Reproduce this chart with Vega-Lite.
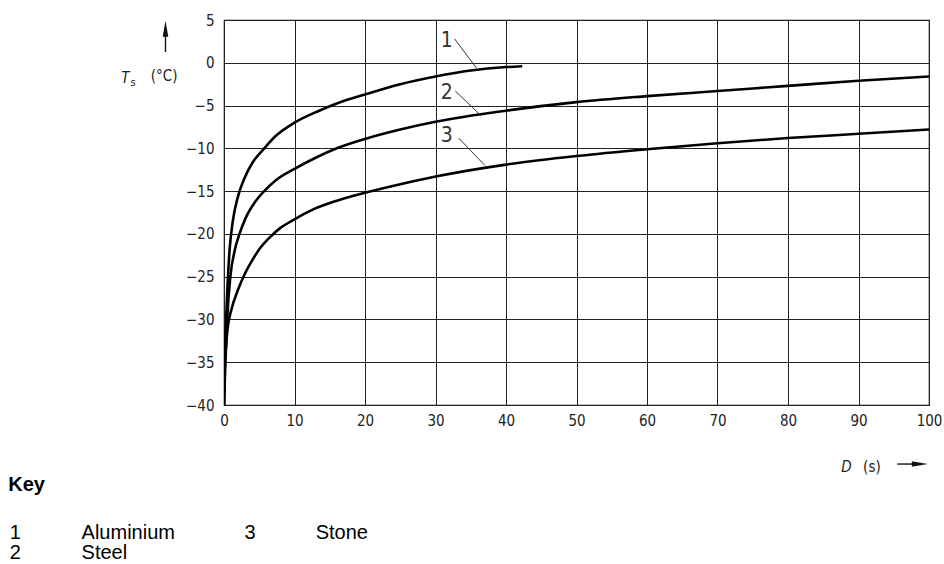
{
  "$schema": "https://vega.github.io/schema/vega-lite/v6.json",
  "width": 705,
  "height": 385,
  "autosize": {"type": "none"},
  "padding": {"left": 224, "top": 20, "right": 15, "bottom": 159},
  "background": "white",
  "config": {
    "view": {"stroke": "#111", "strokeWidth": 1.2},
    "axis": {
      "labelFont": "DejaVu Sans Condensed, Liberation Sans Narrow, sans-serif",
      "labelFontSize": 15,
      "labelColor": "#222",
      "gridColor": "#222",
      "gridWidth": 1,
      "gridOpacity": 1,
      "domain": false,
      "ticks": false,
      "title": null
    }
  },
  "datasets": {
    "curves": [
      {"material": "1", "D": 0, "T": -40}, {"material": "1", "D": 0.1, "T": -35}, {"material": "1", "D": 0.3, "T": -30}, {"material": "1", "D": 0.5, "T": -26}, {"material": "1", "D": 0.78, "T": -22}, {"material": "1", "D": 1.25, "T": -18.5}, {"material": "1", "D": 1.96, "T": -15.7}, {"material": "1", "D": 2.9, "T": -13.5}, {"material": "1", "D": 4.1, "T": -11.6}, {"material": "1", "D": 5.5, "T": -10.2}, {"material": "1", "D": 7.4, "T": -8.5}, {"material": "1", "D": 10, "T": -7.0}, {"material": "1", "D": 13.5, "T": -5.6}, {"material": "1", "D": 16, "T": -4.75}, {"material": "1", "D": 20, "T": -3.7}, {"material": "1", "D": 25, "T": -2.5}, {"material": "1", "D": 30, "T": -1.6}, {"material": "1", "D": 35, "T": -0.9}, {"material": "1", "D": 40, "T": -0.5}, {"material": "1", "D": 42.3, "T": -0.4},
      {"material": "2", "D": 0, "T": -40}, {"material": "2", "D": 0.2, "T": -35}, {"material": "2", "D": 0.45, "T": -30}, {"material": "2", "D": 0.9, "T": -25}, {"material": "2", "D": 1.5, "T": -22}, {"material": "2", "D": 2.2, "T": -20}, {"material": "2", "D": 3.1, "T": -18.1}, {"material": "2", "D": 4.3, "T": -16.4}, {"material": "2", "D": 5.7, "T": -15}, {"material": "2", "D": 7.4, "T": -13.7}, {"material": "2", "D": 10, "T": -12.4}, {"material": "2", "D": 13, "T": -11.1}, {"material": "2", "D": 16, "T": -10}, {"material": "2", "D": 20, "T": -8.9}, {"material": "2", "D": 25, "T": -7.8}, {"material": "2", "D": 30, "T": -6.9}, {"material": "2", "D": 40, "T": -5.6}, {"material": "2", "D": 50, "T": -4.6}, {"material": "2", "D": 60, "T": -3.9}, {"material": "2", "D": 70, "T": -3.3}, {"material": "2", "D": 80, "T": -2.7}, {"material": "2", "D": 90, "T": -2.1}, {"material": "2", "D": 100, "T": -1.6},
      {"material": "3", "D": 0, "T": -40}, {"material": "3", "D": 0.1, "T": -36}, {"material": "3", "D": 0.3, "T": -33}, {"material": "3", "D": 0.6, "T": -30.5}, {"material": "3", "D": 1, "T": -29}, {"material": "3", "D": 2, "T": -26.5}, {"material": "3", "D": 3, "T": -24.6}, {"material": "3", "D": 4, "T": -23.1}, {"material": "3", "D": 5, "T": -21.8}, {"material": "3", "D": 6.5, "T": -20.4}, {"material": "3", "D": 8, "T": -19.3}, {"material": "3", "D": 10, "T": -18.3}, {"material": "3", "D": 12.5, "T": -17.2}, {"material": "3", "D": 15, "T": -16.4}, {"material": "3", "D": 17.5, "T": -15.75}, {"material": "3", "D": 20, "T": -15.2}, {"material": "3", "D": 25, "T": -14.2}, {"material": "3", "D": 30, "T": -13.3}, {"material": "3", "D": 40, "T": -11.9}, {"material": "3", "D": 50, "T": -10.9}, {"material": "3", "D": 60, "T": -10.1}, {"material": "3", "D": 70, "T": -9.4}, {"material": "3", "D": 80, "T": -8.8}, {"material": "3", "D": 90, "T": -8.3}, {"material": "3", "D": 100, "T": -7.8}
    ],
    "leaders": [
      {"label": "1", "lx": 31.6, "ly": 2.6, "x1": 32.7, "y1": 2.8, "x2": 35.8, "y2": -0.6},
      {"label": "2", "lx": 31.6, "ly": -3.5, "x1": 32.8, "y1": -3.3, "x2": 36.5, "y2": -6.2},
      {"label": "3", "lx": 31.6, "ly": -8.6, "x1": 33.3, "y1": -8.8, "x2": 37.0, "y2": -12.0}
    ],
    "key": [
      {"txt": "1", "x": -30.4, "y": -54.95},
      {"txt": "Aluminium", "x": -20.2, "y": -54.95},
      {"txt": "3", "x": 2.9, "y": -54.95},
      {"txt": "Stone", "x": 13.0, "y": -54.95},
      {"txt": "2", "x": -30.4, "y": -57.3},
      {"txt": "Steel", "x": -20.2, "y": -57.3}
    ]
  },
  "layer": [
    {
      "data": {"name": "curves"},
      "mark": {"type": "line", "color": "#000", "strokeWidth": 2.6, "interpolate": "monotone", "clip": true},
      "encoding": {
        "x": {"field": "D", "type": "quantitative", "scale": {"domain": [0, 100], "nice": false, "zero": false},
          "axis": {"values": [0, 10, 20, 30, 40, 50, 60, 70, 80, 90, 100], "labelPadding": 8, "labelFlush": false}},
        "y": {"field": "T", "type": "quantitative", "scale": {"domain": [-40, 5], "nice": false, "zero": false},
          "axis": {"values": [-40, -35, -30, -25, -20, -15, -10, -5, 0, 5], "labelPadding": 10}},
        "detail": {"field": "material"}
      }
    },
    {
      "data": {"name": "leaders"},
      "mark": {"type": "rule", "color": "#333", "strokeWidth": 1},
      "encoding": {
        "x": {"field": "x1", "type": "quantitative"},
        "y": {"field": "y1", "type": "quantitative"},
        "x2": {"field": "x2"},
        "y2": {"field": "y2"}
      }
    },
    {
      "data": {"name": "leaders"},
      "mark": {"type": "text", "font": "DejaVu Sans Condensed, Liberation Sans Narrow, sans-serif", "fontSize": 21, "color": "#333", "align": "center", "baseline": "middle"},
      "encoding": {
        "x": {"field": "lx", "type": "quantitative"},
        "y": {"field": "ly", "type": "quantitative"},
        "text": {"field": "label"}
      }
    },
    {
      "data": {"values": [
        {"t": "T", "x": -14.0, "y": -1.75},
        {"t": "D", "x": 88.3, "y": -47.2}
      ]},
      "mark": {"type": "text", "font": "DejaVu Sans Condensed, Liberation Sans Narrow, sans-serif", "fontSize": 15, "fontStyle": "italic", "color": "#222", "align": "center", "baseline": "middle"},
      "encoding": {
        "x": {"field": "x", "type": "quantitative"},
        "y": {"field": "y", "type": "quantitative"},
        "text": {"field": "t"}
      }
    },
    {
      "data": {"values": [
        {"t": "(°C)", "x": -8.5, "y": -1.6},
        {"t": "(s)", "x": 91.9, "y": -47.2}
      ]},
      "mark": {"type": "text", "font": "DejaVu Sans Condensed, Liberation Sans Narrow, sans-serif", "fontSize": 15, "color": "#222", "align": "center", "baseline": "middle"},
      "encoding": {
        "x": {"field": "x", "type": "quantitative"},
        "y": {"field": "y", "type": "quantitative"},
        "text": {"field": "t"}
      }
    },
    {
      "data": {"values": [{"t": "s", "x": -12.9, "y": -2.4}]},
      "mark": {"type": "text", "font": "DejaVu Sans Condensed, Liberation Sans Narrow, sans-serif", "fontSize": 11, "color": "#222", "align": "center", "baseline": "middle"},
      "encoding": {
        "x": {"field": "x", "type": "quantitative"},
        "y": {"field": "y", "type": "quantitative"},
        "text": {"field": "t"}
      }
    },
    {
      "data": {"values": [
        {"x1": -8.3, "y1": 1.26, "x2": -8.3, "y2": 3.6},
        {"x1": 95.5, "y1": -46.9, "x2": 98.0, "y2": -46.9}
      ]},
      "mark": {"type": "rule", "color": "#111", "strokeWidth": 1.4},
      "encoding": {
        "x": {"field": "x1", "type": "quantitative"},
        "y": {"field": "y1", "type": "quantitative"},
        "x2": {"field": "x2"},
        "y2": {"field": "y2"}
      }
    },
    {
      "data": {"values": [
        {"x": -8.3, "y": 3.97, "shape": "M0,-1L0.35,1L-0.35,1Z"},
        {"x": 98.7, "y": -46.9, "shape": "M1,0L-1,0.35L-1,-0.35Z"}
      ]},
      "mark": {"type": "point", "filled": true, "color": "#111", "size": 256, "opacity": 1, "strokeWidth": 0},
      "encoding": {
        "x": {"field": "x", "type": "quantitative"},
        "y": {"field": "y", "type": "quantitative"},
        "shape": {"field": "shape", "type": "nominal", "scale": null}
      }
    },
    {
      "data": {"values": [{"t": "Key", "x": -30.6, "y": -49.4}]},
      "mark": {"type": "text", "font": "Liberation Sans, Arial, sans-serif", "fontSize": 20, "fontWeight": "bold", "color": "#000", "align": "left", "baseline": "middle"},
      "encoding": {
        "x": {"field": "x", "type": "quantitative"},
        "y": {"field": "y", "type": "quantitative"},
        "text": {"field": "t"}
      }
    },
    {
      "data": {"name": "key"},
      "mark": {"type": "text", "font": "Liberation Sans, Arial, sans-serif", "fontSize": 20, "color": "#000", "align": "left", "baseline": "middle"},
      "encoding": {
        "x": {"field": "x", "type": "quantitative"},
        "y": {"field": "y", "type": "quantitative"},
        "text": {"field": "txt"}
      }
    }
  ]
}
